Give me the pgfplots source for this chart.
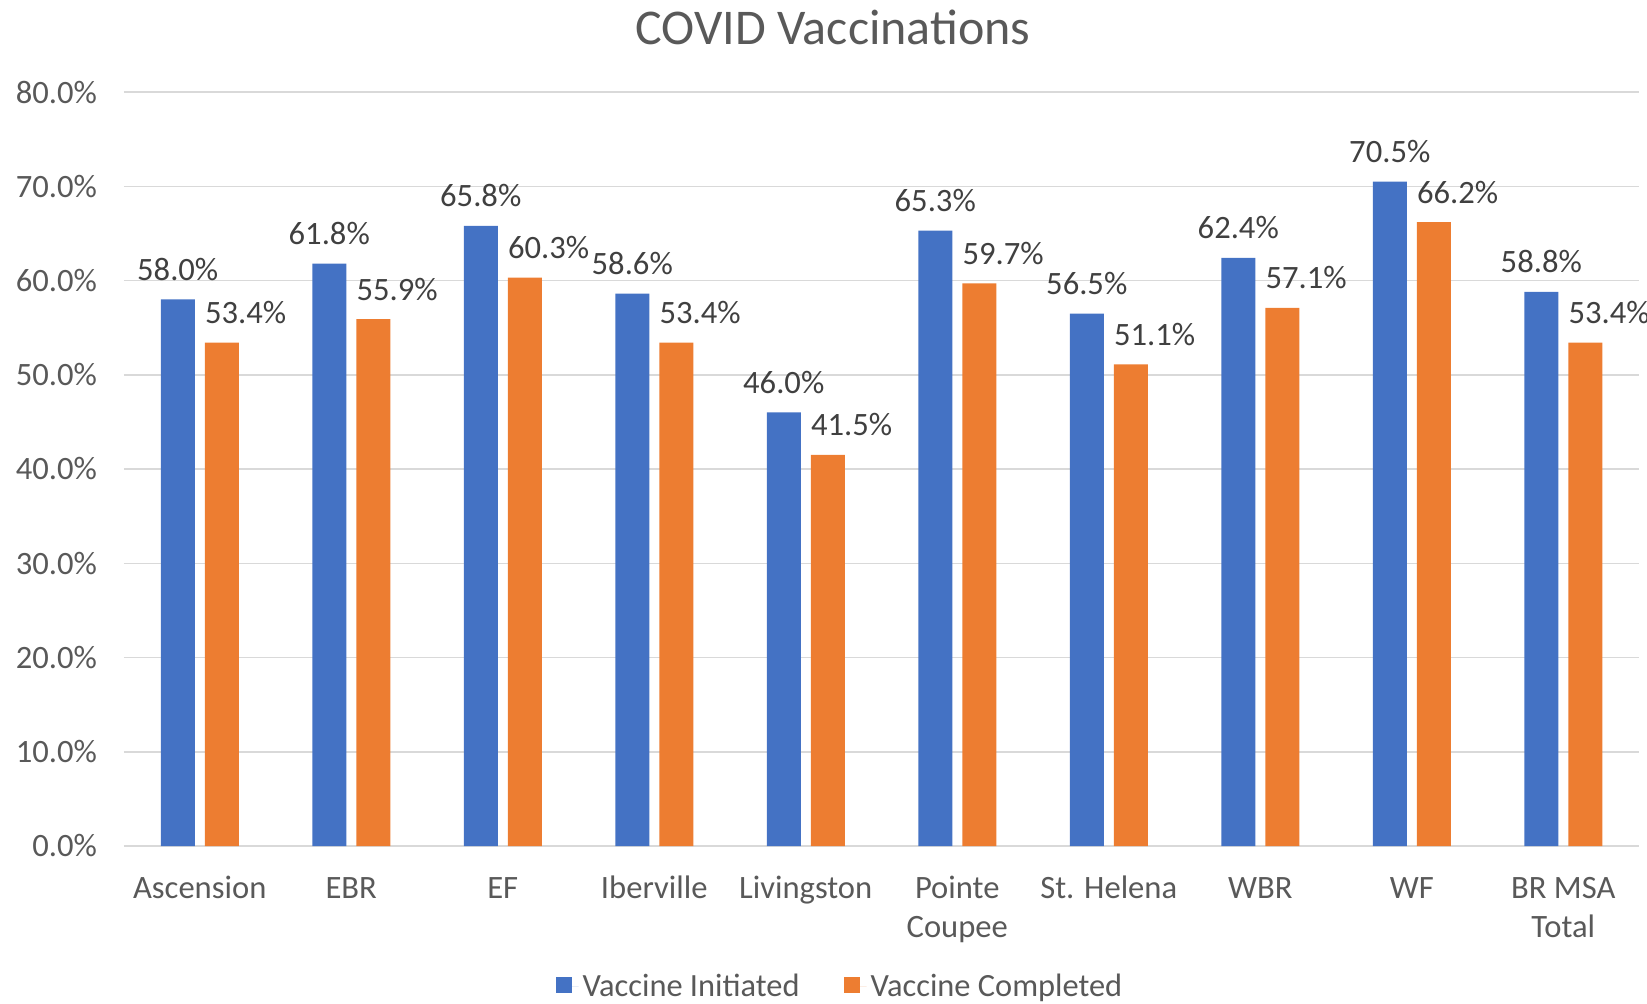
\documentclass[border=0pt]{standalone}
\usepackage{pgfplots}
\pgfplotsset{compat=1.18}
\usepackage{fontspec}
\setmainfont{Carlito}
\definecolor{cblue}{HTML}{4472C4}
\definecolor{corange}{HTML}{ED7D31}
\definecolor{cgrid}{HTML}{D9D9D9}
\definecolor{ctick}{HTML}{595959}
\definecolor{clabel}{HTML}{404040}
\begin{document}
\begin{tikzpicture}
\begin{axis}[
  scale only axis, width=757.5pt, height=377pt,
  ybar=5pt, bar width=17pt,
  xmin=-0.5, xmax=9.5, ymin=0, ymax=80,
  xtick={0,...,9},
  xticklabels={\strut Ascension,\strut EBR,\strut EF,\strut Iberville,\strut Livingston,\strut Pointe\\Coupee,\strut St. Helena,\strut WBR,\strut WF,\strut BR MSA\\Total},
  xticklabel style={align=center, font=\fontsize{16.3pt}{19.5pt}\selectfont, text=ctick, anchor=north, inner sep=0pt, yshift=-12.35pt},
  ytick={0,10,...,80},
  yticklabel={\pgfmathprintnumber[assume math mode=true,fixed,fixed zerofill,precision=1]{\tick}\%},
  yticklabel style={font=\fontsize{16.3pt}{19.5pt}\selectfont, text=ctick, anchor=east, xshift=-10pt},
  ymajorgrids, grid style={cgrid, line width=0.75pt},
  axis line style={draw=none},
  major tick length=0pt,
  title={COVID Vaccinations},
  title style={font=\fontsize{25pt}{30pt}\selectfont, text=ctick, anchor=base, at={(rel axis cs:0.468,1)}, yshift=18pt},
  nodes near coords={\pgfmathprintnumber[assume math mode=true,fixed,fixed zerofill,precision=1]{\pgfplotspointmeta}\%},
  every node near coord/.append style={font=\fontsize{16.3pt}{19.5pt}\selectfont, text=clabel, inner sep=0pt, yshift=9.5pt},
  legend columns=2,
  legend style={draw=none, at={(rel axis cs:0.4734,-0.186)}, anchor=center, font=\fontsize{16.2pt}{19pt}\selectfont, text=ctick,
    /tikz/every even column/.append style={column sep=20.3pt}},
  legend image code/.code={\fill[#1] (0pt,-3.5pt) rectangle (7.9pt,4.4pt); \path (0pt,0pt) -- (11.2pt,0pt);},
]
\addplot[fill=cblue, draw=none, every node near coord/.append style={anchor=base}] coordinates {
(0,58.0) (1,61.8) (2,65.8) (3,58.6) (4,46.0) (5,65.3) (6,56.5) (7,62.4) (8,70.5) (9,58.8)};
\addlegendentry{Vaccine Initiated}
\addplot[fill=corange, draw=none, every node near coord/.append style={anchor=base west, xshift=-8.5pt}] coordinates {
(0,53.4) (1,55.9) (2,60.3) (3,53.4) (4,41.5) (5,59.7) (6,51.1) (7,57.1) (8,66.2) (9,53.4)};
\addlegendentry{Vaccine Completed}
\end{axis}
\pgfresetboundingbox
\path (current axis.south west) ++(-62pt,-78.5pt) rectangle ++(823.5pt,501.5pt);
\end{tikzpicture}
\end{document}
